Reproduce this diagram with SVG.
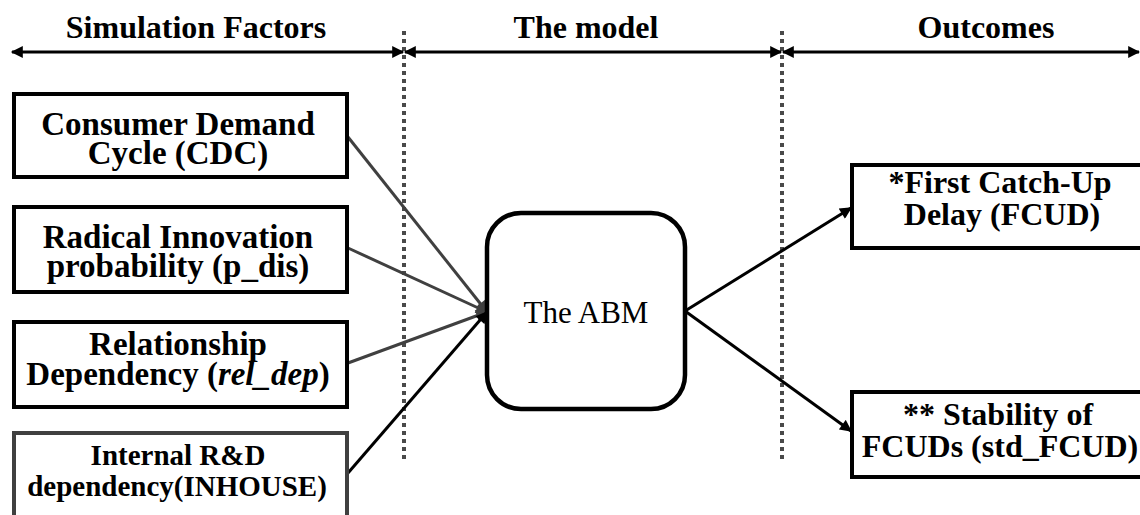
<svg xmlns="http://www.w3.org/2000/svg" width="1140" height="515" viewBox="0 0 1140 515">
  <style>
    .hdr { font-family: "Liberation Serif", "Times New Roman", serif; font-weight: bold; font-size: 32px; fill: #000; text-anchor: middle; }
    .lbl { font-family: "Liberation Serif", "Times New Roman", serif; font-weight: bold; font-size: 33px; fill: #000; text-anchor: middle; }
    .lbl-sm { font-size: 29px; }
    .lbl-out { font-size: 32px; }
    .box { fill: #fff; stroke: #000; stroke-width: 4; }
    .box-gray { fill: #fff; stroke: #404040; stroke-width: 4; }
    .abm { fill: #fff; stroke: #000; stroke-width: 4.5; }
    .abm-text { font-family: "Liberation Serif", "Times New Roman", serif; font-size: 31px; fill: #000; text-anchor: middle; }
    .span { stroke: #000; stroke-width: 3; fill: none; }
    .divider { stroke: #4a4a4a; stroke-width: 4; stroke-dasharray: 4 4; fill: none; }
    .link { stroke-width: 3; fill: none; }
    .link-gray { stroke: #404040; }
    .link-black { stroke: #000; }
  </style>
  <defs>
    <marker id="arrow" viewBox="0 0 10 10" refX="9" refY="5" markerWidth="4.5" markerHeight="4" orient="auto-start-reverse" markerUnits="strokeWidth">
      <path d="M0,0 L10,5 L0,10 z" fill="#000"/>
    </marker>
    <marker id="arrow-gray" viewBox="0 0 10 10" refX="9" refY="5" markerWidth="4.5" markerHeight="4" orient="auto" markerUnits="strokeWidth">
      <path d="M0,0 L10,5 L0,10 z" fill="#404040"/>
    </marker>
  </defs>

  <!-- Column headers -->
  <g id="headers">
    <text class="hdr" x="196" y="38">Simulation Factors</text>
    <text class="hdr" x="586" y="38">The model</text>
    <text class="hdr" x="986" y="38">Outcomes</text>
  </g>

  <!-- Column dividers and span arrows -->
  <g id="dividers">
    <line class="divider" x1="404" y1="31" x2="404" y2="460"/>
    <line class="divider" x1="782" y1="31" x2="782" y2="460"/>
  </g>
  <g id="spans">
    <line class="span" x1="12" y1="52" x2="403" y2="52" marker-start="url(#arrow)" marker-end="url(#arrow)"/>
    <line class="span" x1="405" y1="52" x2="781" y2="52" marker-start="url(#arrow)" marker-end="url(#arrow)"/>
    <line class="span" x1="783" y1="52" x2="1139" y2="52" marker-start="url(#arrow)" marker-end="url(#arrow)"/>
  </g>

  <!-- Connectors -->
  <g id="connectors">
    <line class="link link-gray" x1="348" y1="137" x2="487" y2="312" marker-end="url(#arrow-gray)"/>
    <line class="link link-gray" x1="348" y1="248" x2="487" y2="312" marker-end="url(#arrow-gray)"/>
    <line class="link link-gray" x1="348" y1="363" x2="487" y2="312" marker-end="url(#arrow-gray)"/>
    <line class="link link-black" x1="348" y1="473" x2="487" y2="312" marker-end="url(#arrow)"/>
    <line class="link link-black" x1="685" y1="311" x2="851" y2="208" marker-end="url(#arrow)"/>
    <line class="link link-black" x1="685" y1="311" x2="851" y2="431" marker-end="url(#arrow)"/>
  </g>

  <!-- Simulation factor nodes -->
  <g id="node-cdc">
    <rect class="box" x="14" y="94" width="333" height="83"/>
    <text class="lbl" x="178" y="135">Consumer Demand</text>
    <text class="lbl" x="178" y="164">Cycle (CDC)</text>
  </g>
  <g id="node-pdis">
    <rect class="box" x="14" y="207" width="333" height="85"/>
    <text class="lbl" x="178" y="248">Radical Innovation</text>
    <text class="lbl" x="178" y="277">probability (p_dis)</text>
  </g>
  <g id="node-reldep">
    <rect class="box" x="14" y="322" width="333" height="85"/>
    <text class="lbl" x="178" y="355">Relationship</text>
    <text class="lbl" x="178" y="385">Dependency (<tspan font-style="italic">rel_dep</tspan>)</text>
  </g>
  <g id="node-inhouse">
    <rect class="box-gray" x="14" y="433" width="333" height="90"/>
    <text class="lbl lbl-sm" x="178" y="465">Internal R&amp;D</text>
    <text class="lbl lbl-sm" x="177" y="496">dependency(INHOUSE)</text>
  </g>

  <!-- Model node -->
  <g id="node-abm">
    <rect class="abm" x="487" y="213" width="198" height="196" rx="34" ry="34"/>
    <text class="abm-text" x="586" y="323">The ABM</text>
  </g>

  <!-- Outcome nodes -->
  <g id="node-fcud">
    <rect class="box" x="852" y="165" width="295" height="83"/>
    <text class="lbl lbl-out" x="1000" y="193">*First Catch-Up</text>
    <text class="lbl lbl-out" x="1002" y="225">Delay (FCUD)</text>
  </g>
  <g id="node-stdfcud">
    <rect class="box" x="852" y="392" width="295" height="85"/>
    <text class="lbl lbl-out" x="998" y="425">** Stability of</text>
    <text class="lbl lbl-out" x="1000" y="457">FCUDs (std_FCUD)</text>
  </g>
</svg>
